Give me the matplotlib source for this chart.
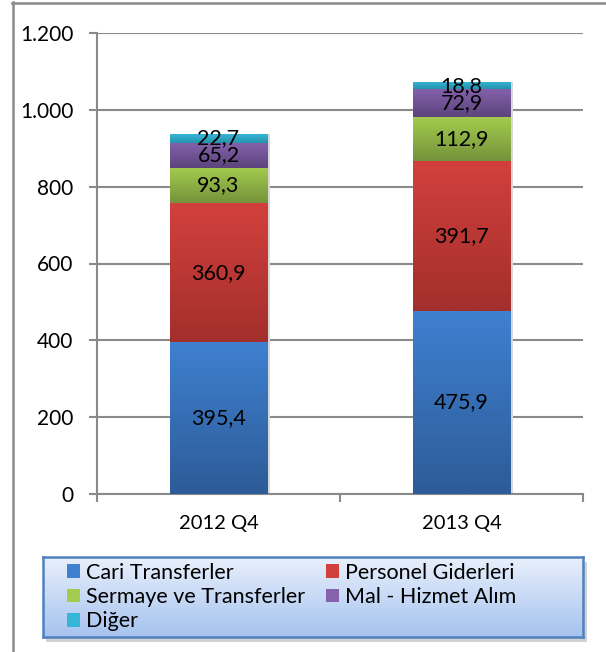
import numpy as np
import matplotlib.pyplot as plt
from matplotlib.colors import LinearSegmentedColormap
from matplotlib.lines import Line2D
from matplotlib.patches import Rectangle, Patch

plt.rcParams['font.family'] = ['Lato', 'DejaVu Sans']

categories = ['2012 Q4', '2013 Q4']
series_names = ['Cari Transferler', 'Personel Giderleri', 'Sermaye ve Transferler',
                'Mal - Hizmet Alım', 'Diğer']
cari = [395.4, 475.9]
personel = [360.9, 391.7]
sermaye = [93.3, 112.9]
mal_hizmet = [65.2, 72.9]
diger = [22.7, 18.8]
yticks = [0, 200, 400, 600, 800, 1000, 1200]

# (top colour, bottom colour) for the vertical gradients
grads = [('#3f80d0', '#2d5c98'),
         ('#d2403d', '#a32f2c'),
         ('#a3cb4e', '#75933a'),
         ('#8462ac', '#5c447c'),
         ('#36b6d6', '#2693ad')]

W, H = 606, 652
fig = plt.figure(figsize=(W / 100, H / 100), dpi=100)

def fx(px):
    return px / W

def fy(py):
    return 1 - py / H

# outer chart frame (only top and left visible)
fig.add_artist(Line2D([fx(12), fx(606)], [fy(2.5), fy(2.5)], color='#8a8a8a', lw=1.8))
fig.add_artist(Line2D([fx(12.5), fx(12.5)], [fy(2), fy(652)], color='#8a8a8a', lw=1.8))

ax = fig.add_axes([fx(97), fy(494), fx(583) - fx(97), fy(33) - fy(494)])
ax.set_xlim(-0.5, 1.5)
ax.set_ylim(0, 1200)

x = np.arange(len(categories))
bottom = np.zeros(len(categories))
for vals, (c_top, c_bot) in zip([cari, personel, sermaye, mal_hizmet, diger], grads):
    vals = np.array(vals)
    bars = ax.bar(x, vals, 0.4, bottom=bottom, color=c_top, zorder=3, linewidth=0)
    cmap = LinearSegmentedColormap.from_list('g', [c_bot, c_top])
    for r in bars:
        r.set_alpha(0)
        xb, yb = r.get_x(), r.get_y()
        # faint shadow on the right side
        ax.add_patch(Rectangle((xb + r.get_width(), yb), 0.012, r.get_height(),
                               facecolor='#d8d8d8', edgecolor='none', zorder=2))
        im = ax.imshow(np.linspace(0, 1, 64).reshape(-1, 1), cmap=cmap, origin='lower',
                       extent=(xb, xb + r.get_width(), yb, yb + r.get_height()),
                       aspect='auto', zorder=3)
        im.set_clip_path(Rectangle((xb, yb), r.get_width(), r.get_height(),
                                   transform=ax.transData))
    ax.bar_label(bars, labels=[f'{v:.1f}'.replace('.', ',') for v in vals],
                 label_type='center', fontsize=15.5, color='black', zorder=5)
    bottom += vals
ax.set_xlim(-0.5, 1.5)
ax.set_ylim(0, 1200)

ax.set_yticks(yticks)
ax.set_yticklabels([f'{v:,}'.replace(',', '.') for v in yticks])
ax.set_xticks(x)
ax.set_xticklabels(categories)
ax.set_xticks([-0.5, 0.5, 1.5], minor=True)
ax.tick_params(axis='x', which='major', length=0, pad=15, labelsize=14.5)
ax.tick_params(axis='x', which='minor', length=6, color='#8a8a8a', width=1.5)
ax.tick_params(axis='y', length=6, color='#8a8a8a', width=1.5, labelsize=15, pad=11)
ax.grid(axis='y', color='#8a8a8a', lw=1.5, zorder=1)
ax.set_axisbelow(True)
for s in ['top', 'right']:
    ax.spines[s].set_visible(False)
for s in ['left', 'bottom']:
    ax.spines[s].set_color('#8a8a8a')
    ax.spines[s].set_linewidth(1.5)

# legend box with gradient and shadow
shadow = Rectangle((fx(46), fy(642)), fx(584) - fx(43), fy(557) - fy(637),
                   transform=fig.transFigure, facecolor='#9a9a9a', alpha=0.45,
                   edgecolor='none', zorder=-5)
fig.add_artist(shadow)
lax = fig.add_axes([fx(43), fy(637), fx(583) - fx(43), fy(557) - fy(637)])
lax.imshow(np.linspace(0, 1, 64).reshape(-1, 1), origin='lower', aspect='auto',
           cmap=LinearSegmentedColormap.from_list('lg', ['#a6c3ef', '#e9f0fc']),
           extent=(0, 1, 0, 1))
lax.set_xlim(0, 1)
lax.set_ylim(0, 1)
lax.set_xticks([])
lax.set_yticks([])
for s in lax.spines.values():
    s.set_color('#4f81bd')
    s.set_linewidth(1.8)
handles = [Patch(facecolor=c[0], edgecolor='none') for c in grads]
order = [0, 2, 4, 1, 3]
lax.legend([handles[i] for i in order], [series_names[i] for i in order], ncol=2,
           loc='center left', bbox_to_anchor=(0.025, 0.5), frameon=False, fontsize=15.5,
           handlelength=0.6, handleheight=0.6, handletextpad=0.25,
           columnspacing=1.0, labelspacing=0.2, borderpad=0)

fig.savefig('out.png', dpi=100)
